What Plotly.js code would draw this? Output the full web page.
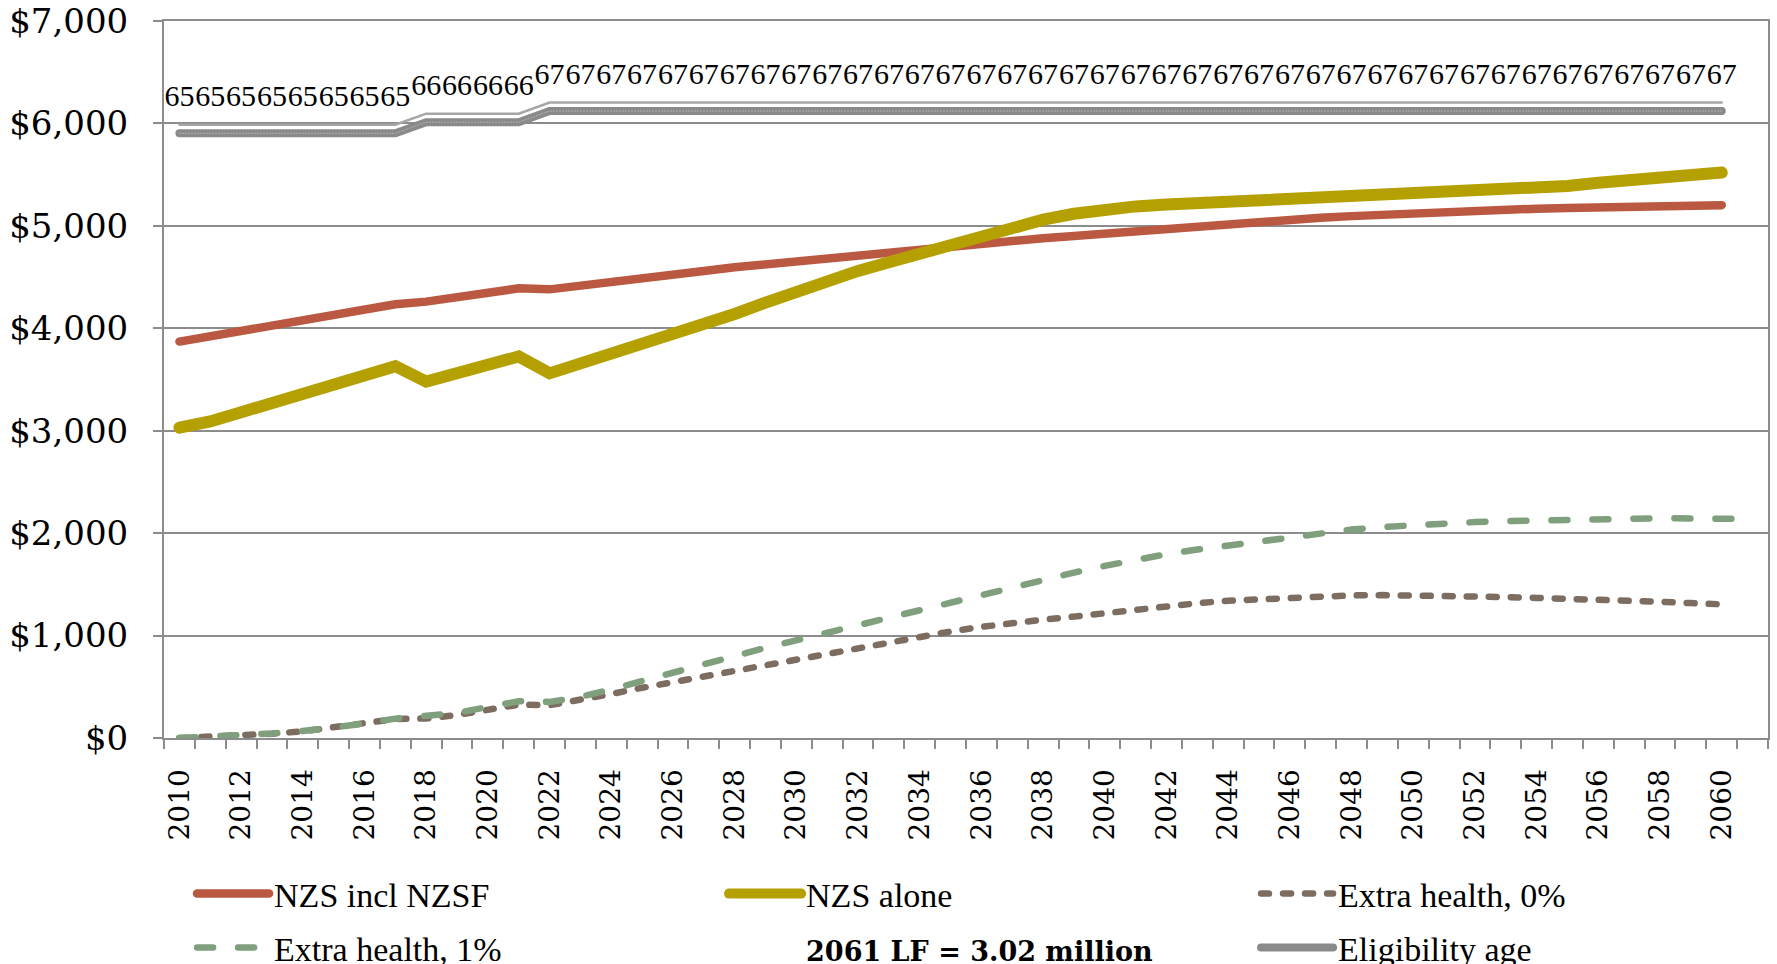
<!DOCTYPE html>
<html>
<head>
<meta charset="utf-8">
<script src="https://cdn.plot.ly/plotly-3.0.1.min.js"></script>
<style>
  html, body { margin: 0; padding: 0; background: #ffffff; }
  #chart { width: 1777px; height: 964px; }
  path.js-line { stroke-linecap: round; }
</style>
</head>
<body>
<div id="chart"></div>
<script>
// Projection years (category axis, one slot per year)
const years = [
  2010, 2011, 2012, 2013, 2014, 2015, 2016, 2017, 2018, 2019,
  2020, 2021, 2022, 2023, 2024, 2025, 2026, 2027, 2028, 2029,
  2030, 2031, 2032, 2033, 2034, 2035, 2036, 2037, 2038, 2039,
  2040, 2041, 2042, 2043, 2044, 2045, 2046, 2047, 2048, 2049,
  2050, 2051, 2052, 2053, 2054, 2055, 2056, 2057, 2058, 2059,
  2060, 2061
];

// Cost per labour-force member, 2010-2060
const nzsInclNzsf = [
  3870, 3925, 3980, 4030, 4085, 4135, 4185, 4235, 4260, 4305,
  4350, 4390, 4380, 4420, 4460, 4495, 4530, 4560, 4595, 4625,
  4655, 4685, 4715, 4745, 4775, 4805, 4830, 4855, 4880, 4900,
  4925, 4950, 4975, 4995, 5020, 5045, 5065, 5080, 5095, 5110,
  5125, 5140, 5150, 5160, 5168, 5175, 5182, 5188, 5193, 5198,
  5202
];

const nzsAlone = [
  3030, 3090, 3180, 3270, 3355, 3440, 3530, 3630, 3480, 3560,
  3640, 3725, 3560, 3655, 3740, 3830, 3930, 4035, 4140, 4250,
  4360, 4470, 4560, 4645, 4730, 4815, 4900, 4985, 5060, 5118,
  5160, 5190, 5208, 5222, 5233, 5242, 5250, 5262, 5280, 5295,
  5310, 5325, 5340, 5355, 5370, 5390, 5420, 5450, 5480, 5500,
  5520
];

const extraHealth0 = [
  0, 10, 23, 42, 65, 100, 145, 186, 190, 225,
  277, 326, 320, 369, 430, 490, 545, 610, 660, 715,
  775, 825, 880, 935, 990, 1040, 1085, 1125, 1155, 1185,
  1220, 1255, 1290, 1316, 1340, 1356, 1372, 1385, 1392, 1395,
  1393, 1388, 1383, 1376, 1368, 1361, 1352, 1342, 1330, 1317,
  1305
];

// Runs one year further, to 2061
const extraHealth1 = [
  0, 12, 26, 45, 68, 100, 140, 189, 212, 245,
  303, 359, 352, 401, 475, 560, 640, 720, 800, 880,
  955, 1015, 1095, 1175, 1250, 1325, 1400, 1475, 1550, 1615,
  1680, 1740, 1795, 1840, 1880, 1920, 1965, 2005, 2035, 2060,
  2080, 2095, 2108, 2118, 2126, 2135, 2141, 2144, 2145, 2144,
  2142, 2138
];

// NZS eligibility age, 2010-2060
const eligibilityAge = [
  65, 65, 65, 65, 65, 65, 65, 65, 66, 66,
  66, 66, 67, 67, 67, 67, 67, 67, 67, 67,
  67, 67, 67, 67, 67, 67, 67, 67, 67, 67,
  67, 67, 67, 67, 67, 67, 67, 67, 67, 67,
  67, 67, 67, 67, 67, 67, 67, 67, 67, 67,
  67
];

// Labelled years on the category axis
const yearTickVals = [
  2010, 2012, 2014, 2016, 2018, 2020, 2022, 2024, 2026, 2028,
  2030, 2032, 2034, 2036, 2038, 2040, 2042, 2044, 2046, 2048,
  2050, 2052, 2054, 2056, 2058, 2060
];
const yearTickText = yearTickVals.map(String);

const GRID = '#8c8c8c';
const SERIF_WIDE = 'DejaVu Serif, serif';
const SERIF = 'Liberation Serif, Times New Roman, serif';

const upTo = (arr) => years.slice(0, arr.length);

const traces = [
  {
    name: 'NZS incl NZSF',
    x: upTo(nzsInclNzsf), y: nzsInclNzsf,
    mode: 'lines',
    line: { color: '#BB5841', width: 8.5 },
    legend: 'legend'
  },
  {
    name: 'NZS alone',
    x: upTo(nzsAlone), y: nzsAlone,
    mode: 'lines',
    line: { color: '#B4A000', width: 12 },
    legend: 'legend'
  },
  {
    name: 'Extra health, 0%',
    x: upTo(extraHealth0), y: extraHealth0,
    mode: 'lines',
    line: { color: '#7D6D61', width: 6.5, dash: '8px,14px' },
    legend: 'legend'
  },
  {
    name: 'Extra health, 1%',
    x: upTo(extraHealth1), y: extraHealth1,
    mode: 'lines',
    line: { color: '#7F9F7D', width: 6.5, dash: '16px,25px' },
    legend: 'legend2'
  },
  {
    name: '<span style="font-family:DejaVu Serif;font-size:27px"><b>2061 LF = 3.02 million</b></span>',
    x: [null], y: [null],
    mode: 'lines',
    line: { color: 'rgba(0,0,0,0)', width: 0 },
    legend: 'legend2'
  },
  {
    // main hatched band of the eligibility-age line
    name: 'Eligibility age',
    x: upTo(eligibilityAge), y: eligibilityAge,
    yaxis: 'y2',
    mode: 'lines',
    line: { color: '#8a8a8a', width: 8 },
    legend: 'legend2'
  },
  {
    // fine speckle over the band
    name: 'Eligibility age (texture)',
    x: upTo(eligibilityAge), y: eligibilityAge,
    yaxis: 'y2',
    mode: 'lines',
    line: { color: '#b4b4b4', width: 1, dash: '1px,2px' },
    showlegend: false
  },
  {
    // thin upper rule of the double line, carrying the age labels
    name: 'Eligibility age (labels)',
    x: upTo(eligibilityAge), y: eligibilityAge,
    yaxis: 'y3',
    mode: 'lines+markers+text',
    line: { color: '#a6a6a6', width: 2.5 },
    marker: { size: 16, color: 'rgba(0,0,0,0)', line: { width: 0 } },
    text: eligibilityAge.map(String),
    textposition: 'top center',
    textfont: { family: SERIF, size: 30, color: '#000000' },
    showlegend: false
  }
];

const legendBase = {
  orientation: 'h',
  xref: 'paper', yref: 'paper',
  x: 0.0175, xanchor: 'left',
  yanchor: 'middle',
  bgcolor: 'rgba(0,0,0,0)',
  borderwidth: 0,
  itemwidth: 72,
  entrywidth: 445,
  entrywidthmode: 'pixels',
  traceorder: 'normal',
  font: { family: SERIF, size: 34, color: '#000000' }
};

const layout = {
  width: 1777,
  height: 964,
  margin: { l: 164, r: 9, t: 21, b: 226, autoexpand: false },
  paper_bgcolor: '#ffffff',
  plot_bgcolor: '#ffffff',
  hovermode: false,
  showlegend: true,
  xaxis: {
    range: [2009.5, 2061.5],
    tickmode: 'array',
    tickvals: yearTickVals,
    ticktext: yearTickText,
    tickangle: -90,
    ticks: '',
    ticklabelstandoff: 18,
    tickfont: { family: SERIF_WIDE, size: 28, color: '#000000' },
    showgrid: false,
    zeroline: false,
    showline: true,
    linecolor: GRID,
    linewidth: 2,
    mirror: true,
    minor: {
      tick0: 2009.5, dtick: 1,
      ticks: 'outside', ticklen: 9, tickwidth: 2, tickcolor: GRID,
      showgrid: false
    }
  },
  yaxis: {
    range: [0, 7000],
    dtick: 1000,
    tickprefix: '$',
    tickformat: ',.0f',
    ticks: 'outside',
    ticklen: 9,
    tickwidth: 2,
    tickcolor: GRID,
    ticklabelstandoff: 18,
    tickfont: { family: SERIF_WIDE, size: 34, color: '#000000' },
    showgrid: true,
    gridcolor: GRID,
    gridwidth: 2,
    zeroline: false,
    showline: true,
    linecolor: GRID,
    linewidth: 2,
    mirror: true
  },
  // hidden age scales that place the eligibility line near the top of the plot
  yaxis2: {
    overlaying: 'y', range: [10.6, 75.1], visible: false, fixedrange: true
  },
  yaxis3: {
    overlaying: 'y', range: [9.835, 74.335], visible: false, fixedrange: true
  },
  legend: Object.assign({}, legendBase, { y: -0.2176 }),
  legend2: Object.assign({}, legendBase, { y: -0.2929 })
};

Plotly.newPlot('chart', traces, layout, { staticPlot: true, displayModeBar: false });
</script>
</body>
</html>
